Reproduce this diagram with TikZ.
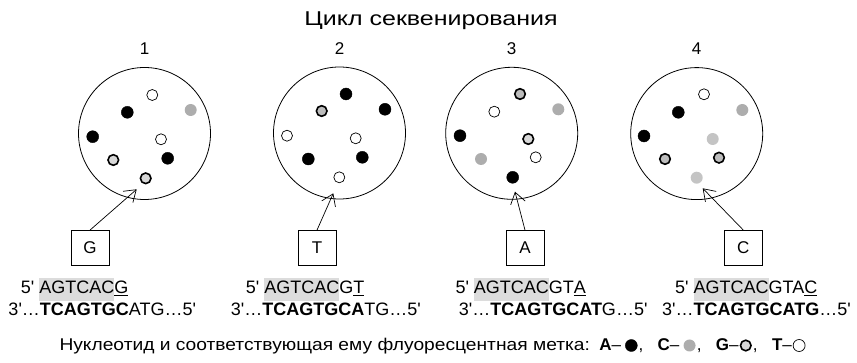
\documentclass[tikz,border=0pt]{standalone}
\usepackage{fontspec}
\newfontfamily\lib{Liberation Sans}
\newfontfamily\cyrT{Liberation Sans}[FakeStretch=1.25]
\newfontfamily\cyrL{Liberation Sans}[FakeStretch=1.13]
\usetikzlibrary{arrows.meta}
\definecolor{hl}{HTML}{DCDCDC}
\definecolor{cgray}{HTML}{ADADAD}
\definecolor{clight}{HTML}{C4C4C4}
\definecolor{glight}{HTML}{D8D8D8}
\definecolor{gdark}{HTML}{BDBDBD}
\newcommand{\hlseq}[1]{\begingroup\setlength{\fboxsep}{0pt}\colorbox{hl}{\rule[-7pt]{0pt}{23pt}#1}\endgroup}
\newcommand{\ul}[1]{\underline{#1}}
\tikzset{
  plate/.style={draw, line width=0.8pt, circle, minimum size=132pt, inner sep=0pt},
  dA/.style={fill=black, draw=black, line width=0.4pt},
  dC/.style={fill=cgray},
  dCl/.style={fill=clight},
  dG/.style={fill=glight, draw=black, line width=1.6pt},
  dGd/.style={fill=gdark, draw=black, line width=1.6pt},
  dT/.style={fill=white, draw=black, line width=0.7pt},
  nbox/.style={draw, line width=0.8pt, minimum width=38pt, minimum height=35pt, inner sep=0pt, font=\lib\fontsize{17}{20}\selectfont},
  seq/.style={anchor=base west, inner sep=0pt, font=\lib\fontsize{18}{21}\selectfont},
  num/.style={font=\lib\fontsize{17}{20}\selectfont},
  lg/.style={anchor=base west, inner sep=0pt, font=\lib\fontsize{17}{20}\selectfont},
  arr/.style={line width=0.7pt, -{Straight Barb[length=11pt,width=15pt,line width=0.7pt]}}
}
\begin{document}
\begin{tikzpicture}[x=1pt,y=-1pt]
\useasboundingbox (0,0) rectangle (857,363);
% title
\node[font=\cyrT\fontsize{20}{24}\selectfont] (title) at (431,21) {Цикл секвенирования};
% numbers
\node[num] (n1) at (144.5,49) {1};
\node[num] (n2) at (339.5,49) {2};
\node[num] (n3) at (511.7,49) {3};
\node[num] (n4) at (696.7,49) {4};
% plates
\node[plate] (p1) at (144.5,133.5) {};
\node[plate] (p2) at (339.5,133) {};
\node[plate] (p3) at (511.7,133.3) {};
\node[plate] (p4) at (696.7,133.6) {};
% dots plate 1
\def\r{6}
\path[dT] (152.3,95) circle[radius=5.5];
\path[dC] (190.7,110) circle[radius=\r];
\path[dA] (127.3,112.3) circle[radius=\r];
\path[dA] (92.7,136.7) circle[radius=\r];
\path[dT] (161,139.3) circle[radius=5.5];
\path[dG] (113.3,160) circle[radius=5.3];
\path[dA] (167.7,158.3) circle[radius=\r];
\path[dG] (145.7,178.3) circle[radius=5.3];
% dots plate 2
\path[dA] (346,94) circle[radius=\r];
\path[dGd] (321.7,111) circle[radius=5.3];
\path[dA] (385,109.3) circle[radius=\r];
\path[dT] (287,135.7) circle[radius=5.5];
\path[dT] (355.7,138.3) circle[radius=5.5];
\path[dA] (308.3,159) circle[radius=\r];
\path[dA] (362.3,157.3) circle[radius=\r];
\path[dT] (339.3,177.3) circle[radius=5.5];
% dots plate 3
\path[dGd] (520,94) circle[radius=5.3];
\path[dT] (494.3,111.7) circle[radius=5.5];
\path[dC] (558.3,109.3) circle[radius=\r];
\path[dA] (460,135.7) circle[radius=\r];
\path[dG] (528.3,139) circle[radius=5.3];
\path[dT] (535.7,157.3) circle[radius=5.5];
\path[dC] (481,159) circle[radius=\r];
\path[dA] (512.7,177.3) circle[radius=\r];
% dots plate 4
\path[dT] (704,94.3) circle[radius=5.5];
\path[dA] (678.3,112.3) circle[radius=\r];
\path[dC] (742.3,110) circle[radius=\r];
\path[dA] (644,136) circle[radius=\r];
\path[dCl] (712.7,139) circle[radius=\r];
\path[dGd] (665,159) circle[radius=5.3];
\path[dGd] (719,157.7) circle[radius=5.3];
\path[dCl] (696.7,177.7) circle[radius=\r];
% boxes
\node[nbox] (b1) at (90,248) {G};
\node[nbox] (b2) at (317,248) {T};
\node[nbox] (b3) at (525,248) {A};
\node[nbox] (b4) at (743.3,248) {C};
% arrow tips
\coordinate (t1) at (136.7,189.3);
\coordinate (t2) at (333.3,193.3);
\coordinate (t3) at (515,191.7);
\coordinate (t4) at (702.7,188.3);
\draw[arr] (b1.north) -- (t1);
\draw[arr] (b2.north) -- (t2);
\draw[arr] (b3.north) -- (t3);
\draw[arr] (b4.north) -- (t4);
% sequences
\node[seq] (s1a) at (20.7,294) {5' \hlseq{AGTCAC}\ul{G}};
\node[seq] (s1b) at (8.3,316) {3'…\textbf{TCAGTGC}ATG…5'};
\node[seq] (s2a) at (245.7,294) {5' \hlseq{AGTCAC}G\ul{T}};
\node[seq] (s2b) at (230.7,316) {3'…\textbf{TCAGTGCA}TG…5'};
\node[seq] (s3a) at (455.3,294) {5' \hlseq{AGTCAC}GT\ul{A}};
\node[seq] (s3b) at (458.7,316) {3'…\textbf{TCAGTGCAT}G…5'};
\node[seq] (s4a) at (675,294) {5' \hlseq{AGTCAC}GTA\ul{C}};
\node[seq] (s4b) at (662,316) {3'…\textbf{TCAGTGCATG}…5'};
% legend
\node[anchor=base west, inner sep=0pt, font=\cyrL\fontsize{17}{20}\selectfont] (leg) at (59.3,351)
  {Нуклеотид и соответствующая ему флуоресцентная метка:};
\node[lg] (lA) at ([xshift=9pt]leg.base east) {\textbf{A}–};
\path[dA] ([xshift=10pt,yshift=5.5pt]lA.base east) circle[radius=6];
\node[lg] (kA) at ([xshift=17pt]lA.base east) {,};
\node[lg] (lC) at ([xshift=14pt]kA.base east) {\textbf{C}–};
\path[dC] ([xshift=10pt,yshift=5.5pt]lC.base east) circle[radius=6];
\node[lg] (kC) at ([xshift=17pt]lC.base east) {,};
\node[lg] (lG) at ([xshift=14pt]kC.base east) {\textbf{G}–};
\path[dG] ([xshift=7pt,yshift=5.5pt]lG.base east) circle[radius=5.3];
\node[lg] (kG) at ([xshift=14pt]lG.base east) {,};
\node[lg] (lT) at ([xshift=14pt]kG.base east) {\textbf{T}–};
\path[dT] ([xshift=7pt,yshift=5.5pt]lT.base east) circle[radius=6];
\end{tikzpicture}
\end{document}
